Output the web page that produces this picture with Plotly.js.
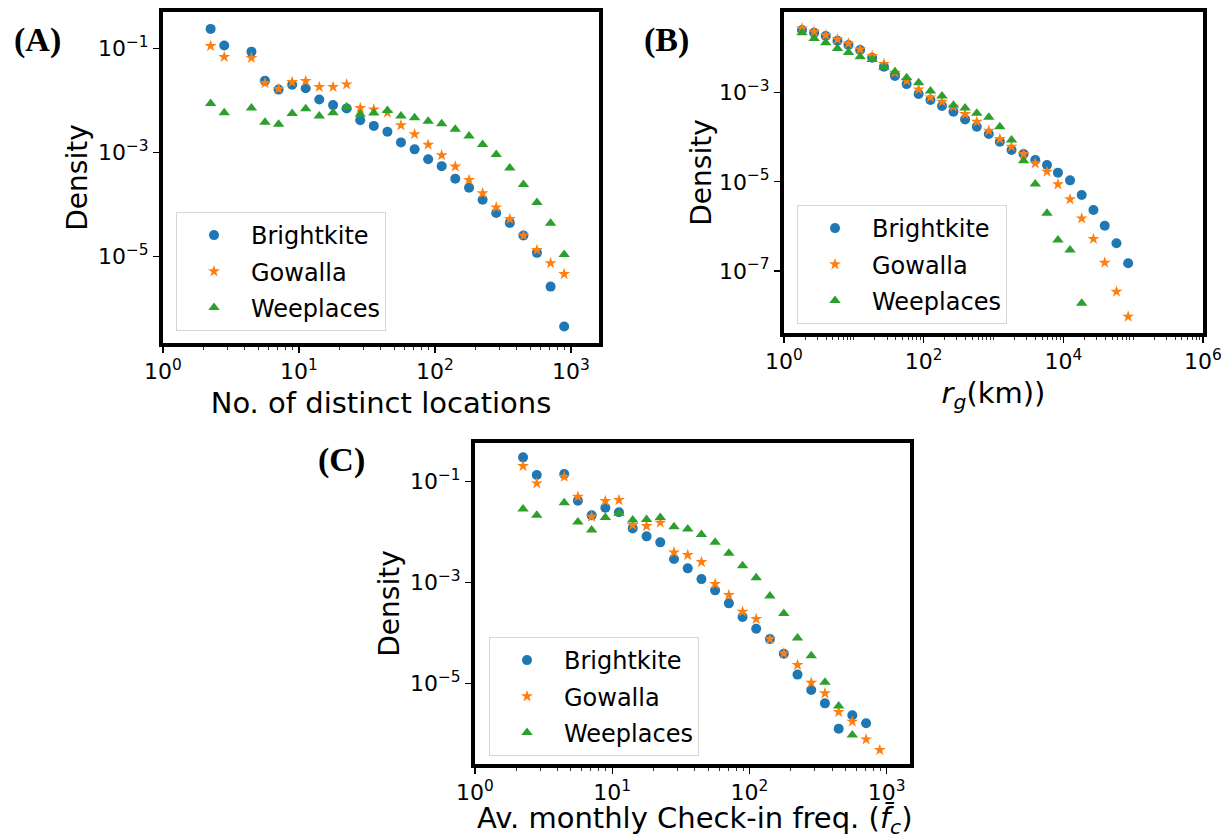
<!DOCTYPE html>
<html>
<head>
<meta charset="utf-8">
<script src="https://cdn.plot.ly/plotly-3.0.1.min.js"></script>
<style>html,body{margin:0;padding:0;background:#fff;}#chart{width:1225px;height:839px;}</style>
</head>
<body>
<div id="chart"></div>
<script>
// ---------- Data ----------
const seriesNames = ["Brightkite", "Gowalla", "Weeplaces"];
const seriesColors = ["#1f77b4", "#ff7f0e", "#2ca02c"];
const seriesSymbols = ["circle", "star", "triangle-up"];

// Panel A: No. of distinct locations
const locX = [2.24, 2.82, 4.47, 5.62, 7.08, 8.91, 11.2, 14.1, 17.8, 22.4, 28.2, 35.5, 44.7, 56.2, 70.8, 89.1, 112, 141, 178, 224, 282, 355, 447, 562, 708, 891];
const locBrightkite = [0.237, 0.114, 0.0865, 0.0239, 0.0161, 0.020, 0.0171, 0.0104, 0.0081, 0.0070, 0.00413, 0.00322, 0.00248, 0.00155, 0.00114, 0.000736, 0.000541, 0.00031, 0.000209, 0.000122, 6.79e-5, 4.38e-5, 2.51e-5, 1.16e-5, 2.6e-6, 4.45e-7];
const locGowalla = [0.111, 0.0684, 0.0655, 0.0215, 0.0166, 0.0225, 0.0235, 0.0181, 0.0181, 0.0203, 0.0071, 0.00669, 0.00578, 0.00332, 0.00223, 0.0014, 0.000877, 0.000533, 0.000293, 0.000163, 8.71e-5, 5.21e-5, 2.51e-5, 1.32e-5, 7.36e-6, 4.54e-6];
const locWeeplaces = [0.0087, 0.00578, 0.0071, 0.00378, 0.00347, 0.00561, 0.00689, 0.00499, 0.00578, 0.00741, 0.00537, 0.0057, 0.0064, 0.00499, 0.00464, 0.00395, 0.00356, 0.00278, 0.00205, 0.00142, 0.000904, 0.000496, 0.000239, 0.000108, 4.32e-5, 1.08e-5];

// Panel B: radius of gyration r_g (km)
const rgX = [1.81, 2.70, 3.96, 5.83, 8.38, 12.3, 18.3, 27.0, 38.8, 57.0, 84.7, 125, 183, 267, 392, 577, 857, 1233, 1811, 2698, 3963, 5834, 8375, 12470, 18320, 26980, 39170, 57680, 84720];
const rgBrightkite = [0.0254, 0.0221, 0.0187, 0.01466, 0.01172, 0.00906, 0.0061, 0.00383, 0.00237, 0.00156, 0.000933, 0.000686, 0.000502, 0.000375, 0.000252, 0.000173, 0.000118, 7.96e-5, 5.18e-5, 4.22e-5, 3.09e-5, 2.39e-5, 1.61e-5, 1.08e-5, 5.08e-6, 2.34e-6, 1.04e-6, 4.19e-7, 1.49e-7];
const rgGowalla = [0.0277, 0.0233, 0.0196, 0.0157, 0.01276, 0.00938, 0.00664, 0.0044, 0.00281, 0.00186, 0.00119, 0.000785, 0.000628, 0.000485, 0.000332, 0.000224, 0.000141, 9.14e-5, 6.15e-5, 4.22e-5, 2.61e-5, 1.69e-5, 8.81e-6, 4.06e-6, 1.52e-6, 5.24e-7, 1.54e-7, 3.44e-8, 9.5e-9];
const rgWeeplaces = [0.0221, 0.01652, 0.01321, 0.00986, 0.00802, 0.00641, 0.00558, 0.0037, 0.00296, 0.00217, 0.00167, 0.00109, 0.000841, 0.00052, 0.000453, 0.000344, 0.00028, 0.000173, 8.69e-5, 2.99e-5, 8.95e-6, 1.97e-6, 4.97e-7, 2.96e-7, 1.89e-8];

// Panel C: average monthly check-in frequency
const freqX = [2.24, 2.82, 4.47, 5.62, 7.08, 8.91, 11.2, 14.1, 17.8, 22.4, 28.2, 35.5, 44.7, 56.2, 70.8, 89.1, 112, 141, 178, 224, 282, 355, 447, 562, 708, 891];
const freqBrightkite = [0.304, 0.1355, 0.1419, 0.042, 0.0215, 0.0305, 0.0247, 0.01186, 0.00824, 0.00627, 0.00292, 0.00191, 0.00117, 0.0007, 0.000386, 0.000207, 0.000121, 7.57e-5, 3.87e-5, 1.49e-5, 7.38e-6, 4.01e-6, 1.26e-6, 2.32e-6, 1.61e-6];
const freqGowalla = [0.2046, 0.0927, 0.1256, 0.0504, 0.0202, 0.0414, 0.0433, 0.0138, 0.0132, 0.01538, 0.00396, 0.00351, 0.00255, 0.000933, 0.000565, 0.000264, 0.000189, 7.57e-5, 3.94e-5, 2.31e-5, 1.03e-5, 6.34e-6, 2.7e-6, 1.74e-6, 7.74e-7, 4.76e-7];
const freqWeeplaces = [0.0287, 0.0215, 0.0383, 0.01585, 0.011, 0.0196, 0.0236, 0.0174, 0.0179, 0.0196, 0.0128, 0.0115, 0.00902, 0.00627, 0.00379, 0.00216, 0.00125, 0.00054, 0.000244, 7.93e-5, 3.54e-5, 1.05e-5, 3.55e-6, 9.44e-7];

// Tick values / labels
const tickValsX3 = [1, 10, 100, 1000];
const tickTextX3 = ["10<sup>0</sup>", "10<sup>1</sup>", "10<sup>2</sup>", "10<sup>3</sup>"];
const tickValsX6 = [1, 100, 10000, 1000000];
const tickTextX6 = ["10<sup>0</sup>", "10<sup>2</sup>", "10<sup>4</sup>", "10<sup>6</sup>"];
const tickValsY135 = [0.1, 0.001, 0.00001];
const tickTextY135 = ["10<sup>\u22121</sup>", "10<sup>\u22123</sup>", "10<sup>\u22125</sup>"];
const tickValsY357 = [0.001, 0.00001, 0.0000001];
const tickTextY357 = ["10<sup>\u22123</sup>", "10<sup>\u22125</sup>", "10<sup>\u22127</sup>"];

const panelLabels = ["(A)", "(B)", "(C)"];
const xTitles = ["No. of distinct locations", "<i>r</i><sub><i>g</i></sub>(km))", "Av. monthly Check-in freq. (<i>f\u0304</i><sub><i>c</i></sub>)"];
const yTitle = "Density";

// ---------- Build ----------
const FONT = "DejaVu Sans, sans-serif";
const panels = [
  {x: locX, ys: [locBrightkite, locGowalla, locWeeplaces], xa: "x", ya: "y", legend: "legend"},
  {x: rgX, ys: [rgBrightkite, rgGowalla, rgWeeplaces], xa: "x2", ya: "y2", legend: "legend2"},
  {x: freqX, ys: [freqBrightkite, freqGowalla, freqWeeplaces], xa: "x3", ya: "y3", legend: "legend3"}
];
const markerSizes = [10, 9, 10];

const traces = [];
panels.forEach((p, pi) => {
  p.ys.forEach((ys, si) => {
    traces.push({
      type: "scatter", mode: "markers",
      x: p.x.slice(0, ys.length), y: ys,
      xaxis: p.xa, yaxis: p.ya,
      name: seriesNames[si],
      legend: p.legend,
      legendgroup: "g" + pi + "_" + si,
      marker: {color: seriesColors[si], symbol: seriesSymbols[si], size: markerSizes[si], line: {width: 0}},
      showlegend: true
    });
  });
});

function xAxis(domain, range, vals, text, title, anchor, standoff) {
  return {
    type: "log", domain: domain, range: range, anchor: anchor,
    tickmode: "array", tickvals: vals, ticktext: text,
    ticks: "outside", ticklen: 6, tickwidth: 1.2, tickcolor: "#000",
    minor: {ticks: "outside", ticklen: 3, tickwidth: 0.8, tickcolor: "#000", dtick: "D1", showgrid: false},
    showline: true, mirror: true, linewidth: 4, linecolor: "#000",
    showgrid: false, zeroline: false,
    tickfont: {family: FONT, size: 22, color: "#000"},
    title: {text: title, font: {family: FONT, size: 29, color: "#000"}, standoff: standoff}
  };
}
function yAxis(domain, range, vals, text, anchor, standoff) {
  return {
    type: "log", domain: domain, range: range, anchor: anchor,
    tickmode: "array", tickvals: vals, ticktext: text,
    ticks: "outside", ticklen: 6, tickwidth: 1.2, tickcolor: "#000",
    showline: true, mirror: true, linewidth: 4, linecolor: "#000",
    showgrid: false, zeroline: false,
    tickfont: {family: FONT, size: 22, color: "#000"},
    title: {text: yTitle, font: {family: FONT, size: 28, color: "#000"}, standoff: standoff}
  };
}
function legendCfg(x, y) {
  return {
    x: x, y: y, xanchor: "left", yanchor: "top", xref: "paper", yref: "paper",
    bgcolor: "rgba(255,255,255,0.8)", bordercolor: "#d6d6d6", borderwidth: 1,
    font: {family: FONT, size: 24, color: "#000"},
    tracegroupgap: 2, itemwidth: 64, itemclick: false
  };
}

const W = 1225, H = 839;
const xC = xAxis([475 / W, 910 / W], [0, 3.17], tickValsX3, tickTextX3, "", "y3", 14);
const layout = {
  width: W, height: H,
  margin: {l: 0, r: 0, t: 0, b: 0},
  paper_bgcolor: "#fff", plot_bgcolor: "#fff",
  font: {family: FONT, color: "#000"},
  xaxis: xAxis([163 / W, 599 / W], [0, 3.206], tickValsX3, tickTextX3, xTitles[0], "y", 10),
  yaxis: yAxis([1 - 343 / H, 1 - 12 / H], [-6.67, -0.30], tickValsY135, tickTextY135, "x", 3),
  xaxis2: xAxis([784 / W, 1203 / W], [0, 6], tickValsX6, tickTextX6, xTitles[1], "y2", 10),
  yaxis2: yAxis([1 - 333 / H, 1 - 12 / H], [-8.39, -1.19], tickValsY357, tickTextY357, "x2", 0),
  xaxis3: xC,
  yaxis3: yAxis([1 - 764 / H, 1 - 443 / H], [-6.60, -0.232], tickValsY135, tickTextY135, "x3", 3),
  legend: legendCfg(176 / W, 1 - 212 / H),
  legend2: legendCfg(797 / W, 1 - 205 / H),
  legend3: legendCfg(489 / W, 1 - 637 / H),
  annotations: [
    {text: "<b>" + panelLabels[0] + "</b>", x: 37 / W, y: 1 - 40 / H},
    {text: "<b>" + panelLabels[1] + "</b>", x: 666 / W, y: 1 - 40 / H},
    {text: "<b>" + panelLabels[2] + "</b>", x: 341 / W, y: 1 - 460 / H}
  ].map(a => Object.assign(a, {xref: "paper", yref: "paper", showarrow: false, xanchor: "center", yanchor: "middle",
    font: {family: "Liberation Serif, Times New Roman, serif", size: 34, color: "#000"}})).concat([
    {text: xTitles[2], xref: "paper", yref: "paper", x: 695 / W, y: 1 - 820 / H, xanchor: "center", yanchor: "middle",
     showarrow: false, font: {family: FONT, size: 29, color: "#000"}}
  ]),
  showlegend: true
};

Plotly.newPlot("chart", traces, layout, {staticPlot: true, displayModeBar: false});
</script>
</body>
</html>
